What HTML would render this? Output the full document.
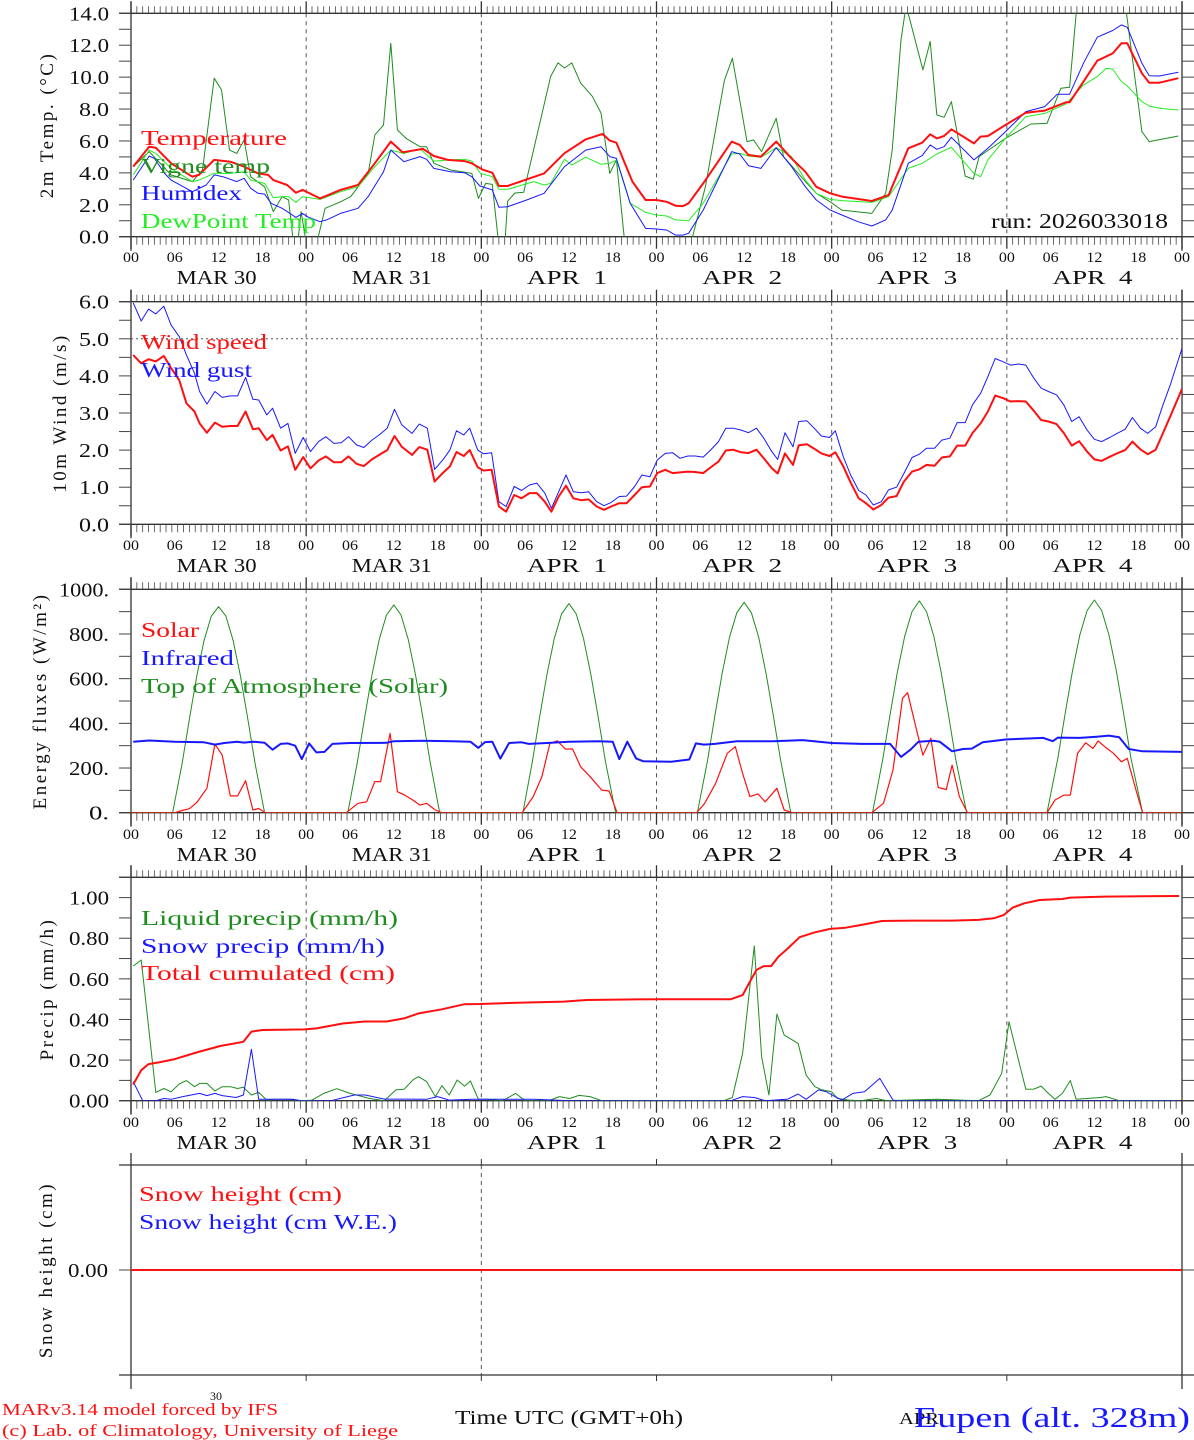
<!DOCTYPE html>
<html><head><meta charset="utf-8"><title>MAR meteogram Eupen</title>
<style>
html,body{margin:0;padding:0;background:#fff;}
svg{display:block;font-family:"Liberation Serif",serif;}
text{white-space:pre;}
</style></head>
<body>
<svg id="chart" xmlns="http://www.w3.org/2000/svg" width="1194" height="1440" viewBox="0 0 1194 1440">
<rect width="1194" height="1440" fill="#fff"/>
</svg>
<script>
// ---------- Panel 1: 2m temperature ----------
const tempH=[0.3,2.5,3.4,5.5,8.4,9.3,11.4,13.6,15.5,17.4,18.8,19.5,21.4,22.6,23.5,25.9,28.7,31.1,33.4,35.6,37.2,40.0,41.5,43.4,45.7,46.7,48.1,49.5,50.4,51.6,56.6,59.4,62.3,64.6,65.6,66.5,68.7,70.5,72,73.4,74.6,75.6,76.4,78.4,82.3,83.4,84.6,86.3,88.4,90.5,92.4,93.9,95.8,97.4,101.5,103.8,106.5,108.4,109.5,110.4,111.4,112.4,115.5,116.4,117.4,119.8,122.6,125.2,128.1,128.6,130.5,132.4,134.5,135.7,136.5,138.5,139.5,140.9,143.5];
const tempV=[4.39,5.64,5.58,4.60,3.76,3.87,4.81,4.70,4.39,3.97,3.87,3.55,3.24,2.76,2.93,2.40,2.93,3.24,4.60,5.96,5.29,5.50,5.06,4.81,4.74,4.60,4.22,4.01,3.18,3.18,3.97,5.23,6.10,6.44,6.02,5.89,3.45,2.30,2.30,2.19,1.94,1.92,2.09,3.34,5.96,5.75,5.12,5.02,5.96,4.91,4.07,3.13,2.72,2.51,2.24,2.61,5.54,5.89,6.42,6.16,6.31,6.73,5.85,6.27,6.31,7.00,7.77,7.90,8.42,8.42,9.72,11.03,11.49,12.12,12.12,10.24,9.65,9.65,9.93];
const vigH=[0.3,2.5,5.5,8.4,9.8,11.4,12.4,13.5,14.5,15.5,16.4,18.3,19.5,20.7,21.6,22.3,22.8,23.3,24.0,25.4,26.6,28.7,30.1,32.5,33.4,34.6,35.6,36.5,37.7,39.6,40.5,41.5,43.8,46.7,47.6,48.6,49.5,50.4,51.2,51.6,52.6,53.8,57.5,58.5,59.4,60.4,61.6,63.2,64.4,65.6,66.5,67.7,76.6,78.7,81.3,82.4,84.4,85.3,86.4,88.4,89.4,92.4,93.9,95.8,97.4,101.5,103.4,104.3,105.5,106.2,108.5,109.5,110.4,111.4,112.4,114.3,115.4,116.2,119.8,123.3,125.5,127.4,128.6,129.5,130,136,136.4,138.5,139.5,143.5];
const vigV=[4.39,5.33,3.87,3.45,4.18,9.93,9.20,5.43,5.22,6.06,3.76,3.13,1.57,2.51,2.30,-0.6,-0.6,1.57,-0.4,-0.5,1.78,2.19,2.51,3.97,6.37,7.00,12.12,6.69,6.16,5.64,5.64,4.60,4.18,3.97,2.40,3.34,3.28,-0.6,-0.6,2.22,2.74,2.78,10.05,10.89,10.57,10.89,9.64,8.80,7.75,3.97,4.81,-0.6,-0.6,3.13,9.80,11.18,5.96,6.06,5.33,7.42,5.02,3.45,2.72,2.19,1.67,1.46,2.72,5.43,12.33,14.5,10.45,12.23,7.63,7.48,8.46,3.80,3.61,5.02,6.16,7.06,7.10,9.30,9.36,14,16.5,16.5,14,6.58,5.96,6.31];
const humH=[0.3,2.5,3.2,4.6,5.5,8.4,10.3,11.4,12.6,14.5,15.5,16.4,17.4,18.3,19.2,20.7,21.4,22.6,23.5,24.2,25.9,26.8,28.7,31.1,32.5,34.6,35.6,37.4,39.6,40.5,41.5,43.8,45.7,46.7,47.8,49.5,50.4,51.6,54.2,56.6,59.4,62.3,64.4,65.6,66.5,68.4,70.5,72,73.4,74.6,75.6,76.4,78.4,82.3,83.4,84.6,86.3,88.4,90.5,92.4,93.9,95.8,97.4,99.6,101.5,103.4,104.3,106.5,108.4,109.5,110.4,111.4,112.4,115.5,117.4,119.8,122.6,125.2,126.9,128.6,130.5,132.4,134.5,135.7,136.5,138.5,139.5,140.9,143.5];
const humV=[3.55,5.06,4.91,3.97,3.55,2.82,3.24,3.87,3.76,3.45,3.66,3.03,2.72,2.67,2.09,1.78,1.57,1.21,1.46,1.25,0.94,1.05,1.46,1.78,2.51,4.07,5.43,4.70,5.02,4.85,4.28,4.07,4.01,3.76,3.18,2.93,1.84,1.88,2.30,2.72,4.39,5.43,5.64,5.02,4.91,2.09,0.52,0.48,0.42,0.10,0.10,0.21,1.67,5.33,5.18,4.45,4.28,5.58,4.39,3.13,2.30,1.67,1.36,0.94,0.67,1.05,1.67,4.60,5.08,5.75,5.48,5.64,6.23,4.81,5.54,6.58,7.84,8.15,8.93,8.93,10.87,12.5,12.92,13.27,13.12,10.87,10.09,10.07,10.30];
const dewH=[0.3,2.5,3.4,5.5,8.4,9.3,11.4,13.6,15.5,16.4,18.3,19.5,20.7,21.6,22.6,23.5,25.9,28.7,31.1,33.4,35.6,37.4,39.6,41.5,43.8,45.7,46.7,47.9,49.5,50.4,51.6,55.2,56.6,57.5,59.4,60.4,62.3,64.4,65.6,66.5,68.4,70.5,72,73.4,74.6,76.4,78.4,82.3,83.4,84.6,86.3,88.4,90.5,92.4,93.9,95.8,97.4,101.5,103.8,106.5,108.4,110.4,112.4,115.5,116.4,117.4,119.8,122.6,125.2,128.1,130.5,132.4,133.6,134.5,135.7,136.5,138.5,139.5,140.9,143.5];
const dewV=[3.87,5.43,5.22,4.28,3.45,3.55,3.97,3.97,4.07,3.55,3.34,2.44,2.51,2.51,2.15,2.51,2.34,2.82,3.13,4.39,5.43,5.22,5.50,4.74,4.81,4.85,4.74,3.97,3.76,2.97,2.97,3.45,3.24,3.34,4.85,4.49,4.98,4.54,4.60,4.81,2.09,1.53,1.36,1.30,1.05,1.00,2.09,5.18,5.22,5.06,4.97,5.58,5.02,3.55,2.72,2.34,2.26,2.15,2.51,4.28,4.60,5.18,5.60,3.97,3.76,4.81,6.16,7.52,7.73,8.32,9.51,10.03,10.55,10.51,9.72,9.45,8.46,8.19,8.05,7.94];
// ---------- Panel 2: wind ----------
const windH=[0.3,1.4,2.4,3.4,4.5,5.5,6.6,7.6,8.7,9.4,10.4,11.5,12.5,13.6,14.6,15.7,16.7,17.5,18.6,19.4,20.5,21.5,22.5,23.6,24.6,25.7,26.7,27.8,28.8,29.8,30.9,31.9,33.0,34.0,35.1,36.1,37.1,38.5,39.5,40.6,41.6,42.7,43.7,44.6,45.6,46.4,47.5,48.3,49.4,50.4,51.4,52.5,53.5,54.6,55.6,56.7,57.6,58.6,59.6,60.6,61.7,62.7,63.8,64.8,65.8,66.9,67.9,69.0,70.0,71.1,72.1,73.2,74.2,75.2,76.3,77.3,78.4,79.4,80.5,81.5,82.5,83.6,84.6,85.7,86.7,87.8,88.6,89.6,90.7,91.5,92.6,93.6,94.6,95.7,96.5,97.6,98.6,99.7,100.7,101.7,102.8,103.8,104.9,105.9,107.0,108.0,109.0,110.1,111.1,112.2,113.2,114.3,115.3,116.4,117.4,118.4,119.5,120.5,121.6,122.6,123.7,124.7,125.7,126.8,127.8,128.9,129.9,131.0,132.0,133.0,134.1,135.1,136.2,137.2,138.3,139.3,140.4,141.4,142.4,144];
const speedV=[4.56,4.34,4.45,4.39,4.54,4.21,3.89,3.26,3.04,2.72,2.47,2.74,2.63,2.65,2.65,3.04,2.56,2.59,2.27,2.41,1.99,2.10,1.47,1.81,1.51,1.72,1.83,1.67,1.67,1.83,1.63,1.57,1.75,1.87,2.00,2.38,2.09,1.87,2.08,2.01,1.15,1.38,1.56,1.95,1.84,2.00,1.54,1.45,1.47,0.48,0.34,0.79,0.70,0.84,0.84,0.61,0.34,0.75,1.04,0.70,0.65,0.67,0.48,0.39,0.48,0.57,0.57,0.79,1.00,1.02,1.38,1.47,1.38,1.40,1.42,1.41,1.38,1.53,1.69,1.99,2.01,1.94,1.92,2.01,1.78,1.51,1.37,1.91,1.60,2.13,2.16,2.04,1.91,1.84,1.94,1.56,1.13,0.70,0.57,0.40,0.52,0.72,0.76,1.15,1.42,1.48,1.60,1.58,1.80,1.83,2.12,2.12,2.46,2.72,3.04,3.47,3.40,3.31,3.32,3.31,3.06,2.81,2.77,2.70,2.46,2.12,2.24,1.96,1.75,1.71,1.82,1.91,2.00,2.23,2.02,1.89,2.01,2.46,2.91,3.65];
const gustV=[5.97,5.48,5.80,5.67,5.88,5.37,5.06,4.56,4.07,3.58,3.24,3.58,3.42,3.46,3.46,3.96,3.37,3.35,2.95,3.13,2.59,2.72,1.91,2.34,1.96,2.23,2.36,2.18,2.20,2.36,2.14,2.07,2.27,2.41,2.59,3.10,2.68,2.45,2.70,2.59,1.48,1.73,2.00,2.52,2.41,2.59,2.00,1.90,1.93,0.61,0.48,1.02,0.91,1.06,1.11,0.84,0.43,0.88,1.33,0.88,0.85,0.88,0.61,0.50,0.59,0.75,0.76,1.02,1.33,1.28,1.73,1.91,1.93,1.78,1.84,1.84,1.81,2.00,2.23,2.59,2.59,2.54,2.47,2.59,2.32,1.96,1.75,2.47,2.09,2.77,2.79,2.59,2.38,2.34,2.52,1.82,1.33,0.91,0.79,0.52,0.61,0.93,1.00,1.37,1.80,1.89,2.05,2.05,2.27,2.32,2.74,2.74,3.22,3.53,3.98,4.47,4.38,4.29,4.32,4.29,3.94,3.67,3.58,3.49,3.22,2.77,2.90,2.54,2.29,2.23,2.34,2.45,2.56,2.88,2.59,2.45,2.63,3.22,3.76,4.74];
// ---------- Panel 3: energy fluxes ----------
const solarH=[0,6,7,8,9,10.4,11.5,12.5,13.6,14.6,15.7,16.7,17.5,18.4,29.5,31.1,32.3,33.4,34.2,35.5,36.5,37.5,38.6,39.6,40.5,41.7,42.6,53.6,55.1,56.3,57.4,58.4,59.5,60.5,61.6,62.9,64.5,65.5,66.6,77.5,78.6,80.1,81.7,82.8,83.8,84.8,85.9,86.9,88.5,89.5,90.6,101.5,103.1,104.4,105.7,106.4,107.8,108.5,109.6,110.6,111.7,112.5,113.5,114.6,125.5,126.6,127.8,128.7,129.7,130.8,131.8,132.5,133.4,134.6,135.7,136.5,137.7,138.6,144];
const solarV=[0,0,10,18,45,109,307,258,75,75,143,12,19,0,0,42,49,139,139,355,94,79,57,34,42,12,0,0,72,161,310,322,285,285,206,161,101,97,0,0,42,131,266,296,176,72,84,49,109,12,0,0,42,191,512,537,348,258,333,113,104,213,72,0,0,57,79,79,266,313,288,321,296,266,228,243,101,0,0];
const irH=[0.3,2.5,6,10,11.5,12.8,14.5,15.5,16.7,18.3,19.4,20.5,21.5,22.5,23.4,24.4,25.4,26.5,27.6,30,35,36,40,44,46.5,47.6,48.5,49.5,50.6,51.8,53.5,54.5,57,60,64,66,66.9,68,69.2,70.2,74,76.5,77.4,78.5,80,83,88,92,96,100,104,105.5,106.8,107.9,110,110.8,112.5,114,115.2,116.7,120,125,126.3,127,130,132.3,134,135.4,136.7,138.6,144];
const irV=[318,323,318,315,305,312,318,314,318,313,282,308,310,300,240,310,270,272,308,312,313,320,322,320,318,290,316,318,242,312,315,308,312,318,320,318,240,318,243,230,228,238,310,305,308,320,320,325,312,308,308,250,282,318,322,318,275,285,287,315,328,335,320,336,335,340,345,338,285,275,272];
const toaH=[0,5.7,7,8,9,10,11,12,13,14,15,16,17,18.3,29.7,31,32,33,34,35,36,37,38,39,40,41,42.3,53.7,55,56,57,58,59,60,61,62,63,64,65,66.4,77.6,79,80,81,82,83,84,85,86,87,88,89,90.4,101.6,103,104,105,106,107,108,109,110,111,112,113,114.5,125.5,127,128,129,130,131,132,133,134,135,136,137,138.6,144];
const toaV=[0,0,220,420,610,770,880,922,880,770,610,420,220,0,0,225,425,615,775,885,930,885,775,615,425,225,0,0,230,430,620,780,890,936,890,780,620,430,230,0,0,235,435,625,785,895,942,895,785,625,435,235,0,0,240,440,630,790,900,948,900,790,630,440,240,0,0,245,445,635,795,905,952,905,795,635,445,245,0,0];
// ---------- Panel 4: precipitation ----------
const cumH=[0.3,1.4,2.4,4,6,9.2,12.3,15.4,16.5,18,23.8,25.4,29,32,35,37.4,39.4,42.6,45.7,47.8,50.9,55,59.3,62.4,71.8,82.2,83.8,84.8,85.7,86.7,87.7,88.7,90,91.6,93.7,95.8,97.9,100,102.9,107.3,112.5,116.1,118.2,119.6,120.8,122.4,124.5,127.6,128.7,133.4,143.6];
const cumV=[0.08,0.15,0.18,0.19,0.205,0.24,0.27,0.29,0.34,0.348,0.351,0.356,0.38,0.39,0.39,0.405,0.43,0.45,0.475,0.476,0.48,0.484,0.488,0.496,0.5,0.5,0.52,0.586,0.644,0.663,0.663,0.709,0.75,0.805,0.829,0.846,0.852,0.865,0.885,0.887,0.887,0.89,0.898,0.915,0.951,0.972,0.988,0.993,1.0,1.005,1.008];
const liqH=[0.3,1.4,3.4,4.5,5.5,6.6,7.6,8.7,9.4,10.4,11.5,12.5,13.6,14.6,15.4,16.5,17.5,18.6,19.6,21.7,23.3,24.8,26.4,28.2,30,32.7,34.7,36.3,37.4,38.7,39.4,40.5,41.7,42.6,43.6,44.7,45.7,46.5,47.6,48.8,50.9,52.7,54,57.2,58.7,60.1,61.4,62.9,64.5,81.2,82.4,83.8,85.4,86.4,87.4,88.5,89.5,91.4,92.5,93.7,94.7,96,96.8,98.4,100,102.1,103.6,110.4,116.1,117.7,119.3,120.3,121.6,122.6,123.7,124.7,125.7,126.6,127.6,128.7,129.5,132.8,133.6,135.4,143.6];
const liqV=[0.663,0.693,0.041,0.06,0.044,0.082,0.099,0.069,0.085,0.085,0.048,0.069,0.069,0.06,0.066,0.028,0.041,0.003,0.007,0.007,0,0.003,0.036,0.059,0.036,0.011,0,0.053,0.056,0.105,0.118,0.094,0.02,0.074,0.028,0.102,0.072,0.097,0.007,0.007,0,0.036,0,0,0.02,0.011,0.026,0.02,0,0,0.016,0.233,0.762,0.217,0.028,0.427,0.323,0.282,0.126,0.069,0.053,0.044,0.011,0.003,0,0.011,0,0.007,0,0.028,0.135,0.389,0.2,0.056,0.057,0.072,0.036,0.007,0.036,0.099,0.007,0.016,0.02,0,0];
const snH=[0.3,1.6,3.4,4.5,5.5,7.1,9.4,10.4,11.5,12.5,14.4,15.4,16.5,17.5,19.6,22.2,23.3,27.4,30.6,32.1,34.7,37.4,40.5,42,43.6,46.7,55.1,60.3,82.2,83.8,85.4,86.9,90,91.4,92.5,94.2,95.3,96.3,97.4,98.9,100.5,102.6,104.4,105.2,143.6];
const snV=[0.094,0,0,0.011,0.007,0.02,0.036,0.025,0.036,0.025,0.016,0.028,0.253,0.007,0.007,0.007,0,0,0.028,0.028,0.008,0.008,0.007,0.02,0.003,0.007,0.007,0,0,0.02,0.016,0,0.008,0.033,0.007,0.053,0.044,0.023,0.003,0.036,0.044,0.11,0.003,0,0];
// ---------- Panel 5: snow height ----------
const snowHgtH=[0,144];
const snowHgtV=[0,0];
// ---------- axis labels ----------
const dayLabels=["MAR 30","MAR 31","APR  1","APR  2","APR  3","APR  4"];
const hourLabels=["00","06","12","18"];
const p1Ticks=["0.0","2.0","4.0","6.0","8.0","10.0","12.0","14.0"];
const p2Ticks=["0.0","1.0","2.0","3.0","4.0","5.0","6.0"];
const p3Ticks=["0.","200.","400.","600.","800.","1000."];
const p4Ticks=["0.00","0.20","0.40","0.60","0.80","1.00"];

const svg=document.getElementById('chart');
const NS='http://www.w3.org/2000/svg';
const X0=131,X1=1182;
function xs(h){return X0+h*(X1-X0)/144;}
function mk(tag,attrs,parent){const e=document.createElementNS(NS,tag);for(const k in attrs)e.setAttribute(k,attrs[k]);(parent||svg).appendChild(e);return e;}
function txt(s,x,y,size,color,anchor,parent,len){const t=mk('text',{x:x,y:y,'font-size':size,fill:color,'text-anchor':anchor||'start'},parent);if(len){t.setAttribute('textLength',len);t.setAttribute('lengthAdjust','spacingAndGlyphs');}t.textContent=s;return t;}

const panels=[
 {id:'temp',top:13.3,bot:236.7,vmin:0,vmax:14,minor:1,lbl:p1Ticks,lstep:2,title:'2m Temp. (\u00B0C)',tx:47,labY:257},
 {id:'wind',top:301.7,bot:524.3,vmin:0,vmax:6,minor:0.5,lbl:p2Ticks,lstep:1,title:'10m Wind (m/s)',tx:60,labY:545},
 {id:'energy',top:589.3,bot:812.7,vmin:0,vmax:1000,minor:100,lbl:p3Ticks,lstep:200,title:'Energy fluxes (W/m\u00B2)',tx:40,labY:834},
 {id:'precip',top:877.3,bot:1100.7,vmin:0,vmax:1.1,minor:0.1,lbl:p4Ticks,lstep:0.2,title:'Precip (mm/h)',tx:47,labY:1122},
 {id:'snow',top:1165,bot:1375,vmin:-1,vmax:1,minor:0,lbl:["0.00"],lstep:0,title:'Snow height (cm)',tx:46,labY:0}
];
function ys(p,v){return p.bot-(v-p.vmin)/(p.vmax-p.vmin)*(p.bot-p.top);}

panels.forEach((p,pi)=>{
  const g=mk('g',{});
  
  
  const cp=mk('clipPath',{id:'clip'+pi},g);
  mk('rect',{x:X0,y:p.top,width:X1-X0,height:p.bot-p.top},cp);
  for(let d=1;d<6;d++){
    if(p.id==='snow'&&d!==2)continue;
    const l=mk('line',{x1:xs(d*24),x2:xs(d*24),y1:p.top,y2:p.bot,stroke:'#555','stroke-width':1,'stroke-dasharray':'4,4'},g);
    
    
  }
  mk('line',{x1:119,x2:X1+12,y1:p.top,y2:p.top,stroke:'#333','stroke-width':1.3},g);
  mk('line',{x1:119,x2:X1+12,y1:p.bot,y2:p.bot,stroke:'#333','stroke-width':1.3},g);
  mk('line',{x1:X0,x2:X0,y1:p.top-12,y2:p.bot+14,stroke:'#333','stroke-width':1.3},g);
  mk('line',{x1:X1,x2:X1,y1:p.top-12,y2:p.bot+14,stroke:'#333','stroke-width':1.3},g);
  if(p.id!=='snow'){
    for(let i=0;i<=180;i++){
      const x=X0+i*(X1-X0)/180;
      mk('line',{x1:x,x2:x,y1:p.top-7,y2:p.top,stroke:'#444','stroke-width':0.8},g);
      mk('line',{x1:x,x2:x,y1:p.bot,y2:p.bot+8,stroke:'#444','stroke-width':0.8},g);
    }
    for(let d=0;d<=6;d++){
      mk('line',{x1:xs(d*24),x2:xs(d*24),y1:p.top-12,y2:p.top,stroke:'#333','stroke-width':1.3},g);
      mk('line',{x1:xs(d*24),x2:xs(d*24),y1:p.bot,y2:p.bot+12,stroke:'#333','stroke-width':1.3},g);
    }
    for(let d=0;d<6;d++){
      for(let k=0;k<4;k++){
        const t=txt(hourLabels[k],xs(d*24+k*6),p.labY+5,15,'#111','middle',g,16);
        
        
      }
      const dl=txt(dayLabels[d],xs(d*24+12)-2,p.labY+27,20,'#111','middle',g,80);
      
      
    }
    const end=txt('00',X1,p.labY+5,15,'#111','middle',g,16);
    
    
    for(let v=p.vmin;v<=p.vmax+1e-9;v+=p.minor){
      const y=ys(p,v);
      mk('line',{x1:119,x2:X0,y1:y,y2:y,stroke:'#444','stroke-width':1},g);
      mk('line',{x1:X1,x2:X1+12,y1:y,y2:y,stroke:'#444','stroke-width':1},g);
    }
    p.lbl.forEach((s,i)=>{
      const t=txt(s,109,ys(p,p.vmin+i*p.lstep)+7,20,'#111','end',g,s.length*10);
      
      
    });
  } else {
    for(let d=1;d<6;d++){
      mk('line',{x1:xs(d*24),x2:xs(d*24),y1:p.top-6,y2:p.top,stroke:'#333','stroke-width':1},g);
      mk('line',{x1:xs(d*24),x2:xs(d*24),y1:p.bot,y2:p.bot+6,stroke:'#333','stroke-width':1},g);
    }
    const y=ys(p,0);
    mk('line',{x1:119,x2:X0,y1:y,y2:y,stroke:'#444','stroke-width':1},g);
    mk('line',{x1:X1,x2:X1+12,y1:y,y2:y,stroke:'#444','stroke-width':1},g);
    const t=txt('0.00',108,y+7,20,'#111','end',g,40);
    
    
  }
  const ty=(p.top+p.bot)/2;
  const tt=txt(p.title,p.tx,ty,19,'#111','middle',g);
  tt.setAttribute('transform','rotate(-90 '+p.tx+' '+ty+')');
  tt.setAttribute('dy','6');
  tt.setAttribute('letter-spacing','2.5');
  
  
  p.g=g;
});

const ref=mk('line',{x1:X0,x2:X1,y1:ys(panels[1],5),y2:ys(panels[1],5),stroke:'#555','stroke-width':1,'stroke-dasharray':'2,3'});



function series(pi,H,V,color,w,name){
  const p=panels[pi];
  const n=Math.min(H.length,V.length);
  let d='';
  for(let i=0;i<n;i++)d+=(i?'L':'M')+xs(H[i]).toFixed(1)+' '+ys(p,V[i]).toFixed(1);
  const path=mk('path',{d:d,fill:'none',stroke:color,'stroke-width':w,'stroke-linejoin':'round','clip-path':'url(#clip'+pi+')'},p.g);
  
  
}
const RED='#ff1010',DG='#1e8c1e',BL='#1818ff',LG='#22ee22';
series(0,vigH,vigV,DG,1,'vigne-temp-line');
series(0,dewH,dewV,LG,1,'dewpoint-line');
series(0,humH,humV,BL,1,'humidex-line');
series(0,tempH,tempV,RED,2,'temperature-line');
series(1,windH,gustV,BL,1,'wind-gust-line');
series(1,windH,speedV,RED,2,'wind-speed-line');
series(2,toaH,toaV,DG,1,'toa-solar-line');
series(2,solarH,solarV,RED,1.2,'solar-line');
series(2,irH,irV,BL,2,'infrared-line');
series(3,liqH,liqV,DG,1,'liquid-precip-line');
series(3,snH,snV,BL,1,'snow-precip-line');
series(3,cumH,cumV,RED,2,'total-cumulated-line');
series(4,snowHgtH,snowHgtV,RED,2,'snow-height-line');

function leg(s,x,y,color,len,name){const t=txt(s,x,y,21,color,'start',null,len);}
leg('Temperature',141,145,RED,146,'legend-temperature');
leg('Vigne temp',141,173,DG,129,'legend-vigne-temp');
leg('Humidex',141,200,BL,101,'legend-humidex');
leg('DewPoint Temp',141,228,LG,175,'legend-dewpoint');
leg('run: 2026033018',991,228,'#111',177,'run-label');
leg('Wind speed',141,349,RED,126,'legend-wind-speed');
leg('Wind gust',141,377,BL,111,'legend-wind-gust');
leg('Solar',141,637,RED,58,'legend-solar');
leg('Infrared',141,665,BL,93,'legend-infrared');
leg('Top of Atmosphere (Solar)',141,693,DG,307,'legend-toa');
leg('Liquid precip (mm/h)',141,925,DG,257,'legend-liquid-precip');
leg('Snow precip (mm/h)',141,953,BL,244,'legend-snow-precip');
leg('Total cumulated (cm)',141,980,RED,254,'legend-total-cumulated');
leg('Snow height (cm)',139,1201,RED,203,'legend-snow-height');
leg('Snow height (cm W.E.)',139,1229,BL,258,'legend-snow-height-we');

function foot(s,x,y,size,color,len,anchor,name){const t=txt(s,x,y,size,color,anchor||'start',null,len);}
foot('30',216,1400,12,'#111',0,'middle','footer-day-30');
foot('MARv3.14 model forced by IFS',2,1415,17,RED,276,'start','model-credit');
foot('(c) Lab. of Climatology, University of Liege',2,1436,17,RED,396,'start','lab-credit');
foot('Time UTC (GMT+0h)',455,1424,20,'#111',228,'start','x-axis-title');
foot('APR',899,1424,17,'#111',40,'start','footer-apr');
foot('Eupen (alt. 328m)',914,1427,28,BL,276,'start','station-name');
</script>
</body></html>
